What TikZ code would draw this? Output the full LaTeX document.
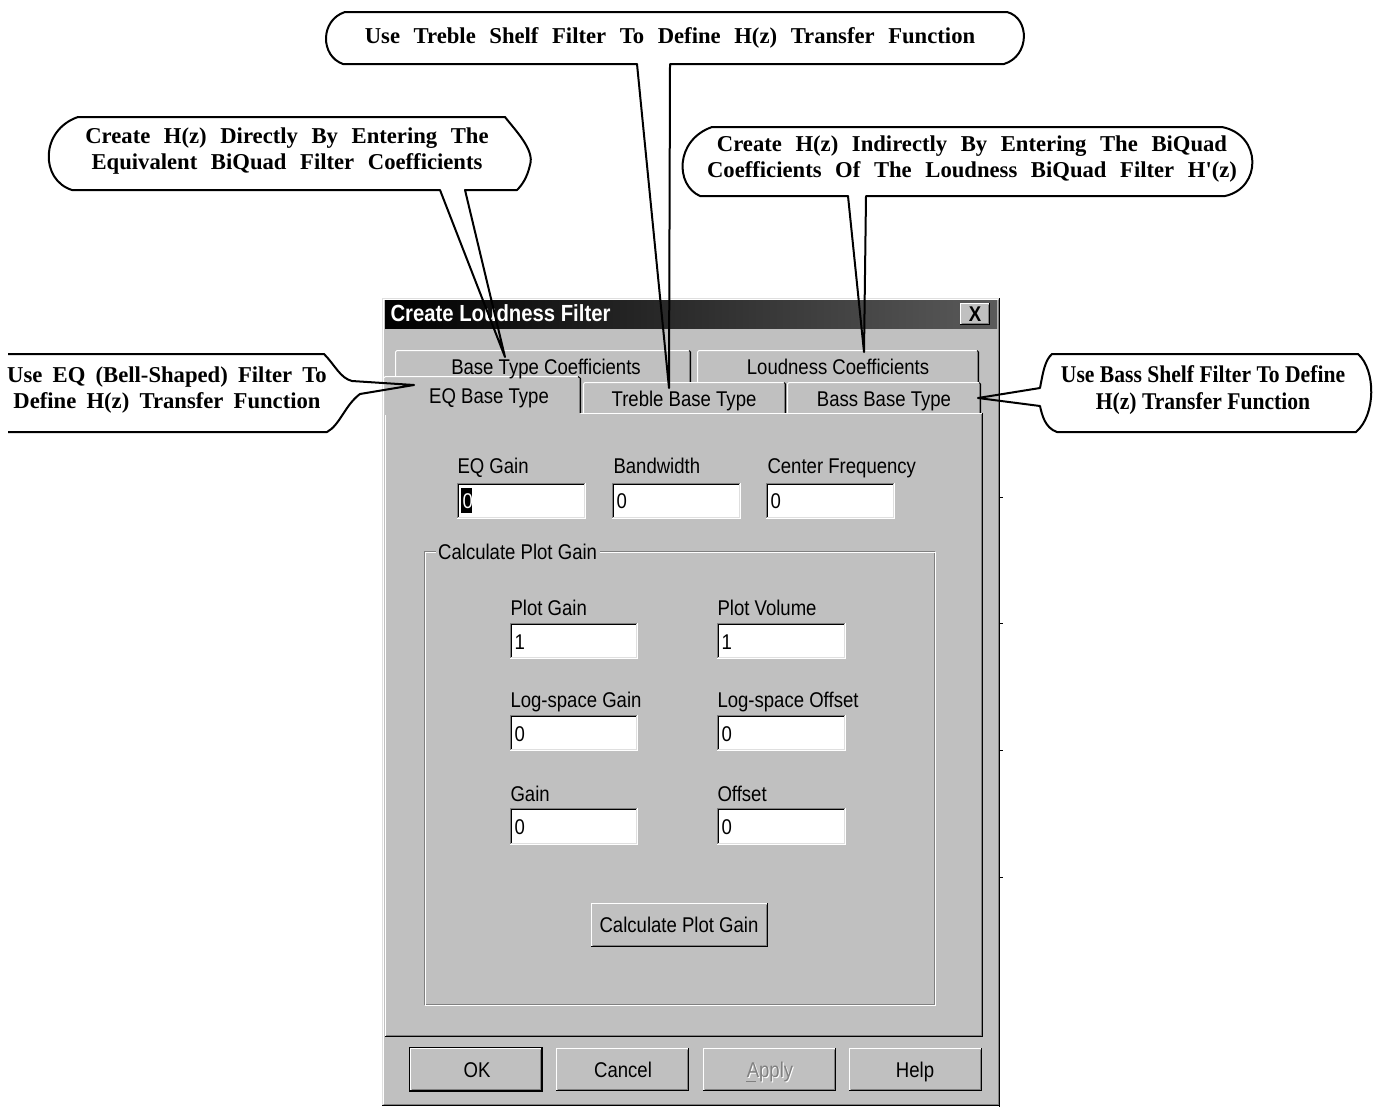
\documentclass[tikz,border=0pt]{standalone}
\usepackage{fontspec}
\setmainfont{Liberation Serif}
\newfontfamily\dlgfont[FakeStretch=0.87]{Liberation Sans}
\newfontfamily\narrowserif[FakeStretch=0.9]{Liberation Serif}

\definecolor{winface}{RGB}{192,192,192}
\definecolor{winshadow}{RGB}{128,128,128}
\definecolor{winlight}{RGB}{255,255,255}
\definecolor{wingrey}{RGB}{223,223,223}
\definecolor{titlegrey}{RGB}{90,90,90}

\newcommand{\widespace}{\spaceskip=0.6em plus 0.1em\relax}
\newcommand{\midspace}{\spaceskip=0.45em plus 0.1em\relax}

\tikzset{every picture/.style={line width=0.75pt}}
\tikzset{
  callout/.style={line width=1.5pt, line join=round},
  calltext/.style={font=\bfseries\fontsize{17}{19.5}\selectfont, align=center, inner sep=0.75pt, execute at begin node=\widespace},
  bassnote/.style={font=\narrowserif\bfseries\fontsize{18}{20.5}\selectfont, align=center, inner sep=0.75pt},
  dlgtext/.style={font=\dlgfont\fontsize{16}{18}\selectfont, inner sep=0.75pt, anchor=base},
  dlglabel/.style={dlgtext, anchor=base west},
  titletext/.style={font=\dlgfont\bfseries\fontsize{17.5}{19}\selectfont, text=white, inner sep=0.75pt, anchor=base west},
}

% raised face: x1 y1 x2 y2
\newcommand{\raisedbox}[4]{%
  \fill[winface] (#1,#2) rectangle (#3,#4);
  \draw[winlight] (#1+0.5,#4-1) -- (#1+0.5,#2+0.5) -- (#3-1,#2+0.5);
  \draw[winshadow] (#1+1.5,#4-1.5) -- (#3-1.5,#4-1.5) -- (#3-1.5,#2+1.5);
  \draw[black] (#1,#4-0.5) -- (#3-0.5,#4-0.5) -- (#3-0.5,#2);
}
% sunken edit field: x1 y1 x2 y2
\newcommand{\sunkenbox}[4]{%
  \fill[white] (#1,#2) rectangle (#3,#4);
  \draw[winshadow] (#1+0.5,#4-1) -- (#1+0.5,#2+0.5) -- (#3-1,#2+0.5);
  \draw[black] (#1+1.5,#4-2) -- (#1+1.5,#2+1.5) -- (#3-2,#2+1.5);
  \draw[wingrey] (#1+1,#4-1.5) -- (#3-1.5,#4-1.5) -- (#3-1.5,#2+1);
  \draw[winlight] (#1,#4-0.5) -- (#3-0.5,#4-0.5) -- (#3-0.5,#2);
}
% tab: x1 top x2 bottom
\newcommand{\tabface}[4]{%
  \fill[winface] (#1,#4) -- (#1,#2+2) -- (#1+2,#2) -- (#3-2,#2) -- (#3,#2+2) -- (#3,#4) -- cycle;
  \draw[winlight] (#1+0.5,#4) -- (#1+0.5,#2+2) -- (#1+2,#2+0.5) -- (#3-2,#2+0.5);
  \draw[black] (#3-2,#2+0.5) -- (#3-0.5,#2+2) -- (#3-0.5,#4);
  \draw[winshadow] (#3-1.5,#2+2) -- (#3-1.5,#4);
}

\begin{document}
\begin{tikzpicture}[x=0.75pt,y=0.75pt,yscale=-1,xscale=1]
\useasboundingbox (0,0) rectangle (1373,1107);

%Shape: Rectangle [dialog frame]
\fill[winface] (382,298) rectangle (1000,1106);
\draw[wingrey] (382.5,1106) -- (382.5,298.5) -- (1000,298.5);
\draw[winlight] (383.5,1104) -- (383.5,299.5) -- (998,299.5);
\draw[winshadow] (384,1104.5) -- (998.5,1104.5) -- (998.5,300);
\draw[black] (382,1105.5) -- (999.5,1105.5);
\draw[black] (999.5,298) -- (999.5,1107);
%Straight Lines [ticks]
\draw (1000,497) -- (1003,497);
\draw (1000,623) -- (1003,623);
\draw (1000,750) -- (1003,750);
\draw (1000,877) -- (1003,877);

%Shape: Rectangle [title bar]
\shade[left color=black, right color=titlegrey] (385,300) rectangle (997,328);
\raisedbox{960}{303}{990}{325}
% Text Node
\node[titletext] (title) at (389,321) {Create Loudness Filter};
% Text Node
\node[font=\dlgfont\bfseries\fontsize{16}{18}\selectfont, inner sep=0pt] (closex) at (975,314) {X};

%Shape: Tabs, back row
\tabface{395}{350}{691}{382}
\tabface{697}{350}{979}{382}
%Shape: Tabs, front row
\tabface{583}{382}{786}{414}
\tabface{787}{382}{981}{414}

%Shape: Rectangle [tab panel]
\fill[winface] (385,413) rectangle (983,1037);
\draw[winlight] (385.5,1036) -- (385.5,413.5) -- (982,413.5);
\draw[winshadow] (386,1035.5) -- (981.5,1035.5) -- (981.5,414);
\draw[black] (385,1036.5) -- (982.5,1036.5) -- (982.5,413);

%Shape: selected tab
\fill[winface] (384,376) -- (384,415) -- (580,415) -- (580,376) -- cycle;
\draw[winlight] (383.5,415) -- (383.5,378) -- (385.5,376.5) -- (578,376.5);
\draw[black] (578,376.5) -- (580.5,378.5) -- (580.5,413);
\draw[winshadow] (579.5,379) -- (579.5,413);

% Text Node
\node[dlgtext] (tabcoef) at (546,374) {Base Type Coefficients};
% Text Node
\node[dlgtext] (tabloud) at (838,374) {Loudness Coefficients};
% Text Node
\node[dlgtext] (tabeq) at (489,403) {EQ Base Type};
% Text Node
\node[dlgtext] (tabtreble) at (684,406) {Treble Base Type};
% Text Node
\node[dlgtext] (tabbass) at (884,406) {Bass Base Type};

% Text Node
\node[dlglabel] (eqgain) at (456,473) {EQ Gain};
% Text Node
\node[dlglabel] (bandwidth) at (612,473) {Bandwidth};
% Text Node
\node[dlglabel] (centerfreq) at (766,473) {Center Frequency};
\sunkenbox{457}{483}{586}{519}
\sunkenbox{612}{483}{741}{519}
\sunkenbox{766}{483}{895}{519}
\fill[black] (461,488) rectangle (472,513);
% Text Node
\node[dlglabel, text=white] (eqgainval) at (461,508) {0};
% Text Node
\node[dlglabel] (bandwidthval) at (615,508) {0};
% Text Node
\node[dlglabel] (centerfreqval) at (769,508) {0};

%Shape: group box
\draw[winshadow] (424.5,1004) -- (424.5,551.5) -- (934,551.5) -- (934,1004) -- cycle;
\draw[winlight] (425.5,1005) -- (425.5,552.5) -- (935,552.5) -- (935,1005) -- cycle;
% Text Node
\node[dlglabel, fill=winface, inner xsep=2pt] (groupcap) at (435,559) {Calculate Plot Gain};

% Text Node
\node[dlglabel] (plotgain) at (509,615) {Plot Gain};
% Text Node
\node[dlglabel] (plotvol) at (716,615) {Plot Volume};
\sunkenbox{510}{623}{638}{659}
\sunkenbox{717}{623}{846}{659}
% Text Node
\node[dlglabel] (plotgainval) at (513,649) {1};
% Text Node
\node[dlglabel] (plotvolval) at (720,649) {1};

% Text Node
\node[dlglabel] (loggain) at (509,707) {Log-space Gain};
% Text Node
\node[dlglabel] (logoffset) at (716,707) {Log-space Offset};
\sunkenbox{510}{715}{638}{751}
\sunkenbox{717}{715}{846}{751}
% Text Node
\node[dlglabel] (loggainval) at (513,741) {0};
% Text Node
\node[dlglabel] (logoffsetval) at (720,741) {0};

% Text Node
\node[dlglabel] (gain) at (509,801) {Gain};
% Text Node
\node[dlglabel] (offset) at (716,801) {Offset};
\sunkenbox{510}{808}{638}{845}
\sunkenbox{717}{808}{846}{845}
% Text Node
\node[dlglabel] (gainval) at (513,834) {0};
% Text Node
\node[dlglabel] (offsetval) at (720,834) {0};

%Shape: Button [calculate]
\raisedbox{591}{903}{768}{947}
% Text Node
\node[dlgtext] (calcbtn) at (679,932) {Calculate Plot Gain};

%Shape: Buttons [bottom row]
\draw[black] (409.5,1047.5) rectangle (542.5,1091.5);
\raisedbox{410}{1048}{542}{1091}
\raisedbox{556}{1048}{689}{1091}
\raisedbox{703}{1048}{836}{1091}
\raisedbox{849}{1048}{982}{1091}
% Text Node
\node[dlgtext] (okbtn) at (477,1077) {OK};
% Text Node
\node[dlgtext] (cancelbtn) at (623,1077) {Cancel};
% Text Node
\node[dlgtext, text=white] (applyshade) at (771,1078) {Apply};
% Text Node
\node[dlgtext, text=winshadow] (applybtn) at (770,1077) {Apply};
\draw[winshadow] (746,1081) -- (756,1081);
% Text Node
\node[dlgtext] (helpbtn) at (915,1077) {Help};

%Callout [treble]
\coordinate (tiptreble) at (669,388);
\draw[callout] (345,12) -- (1007,12) .. controls (1030,18) and (1030,56) .. (1004,64) -- (670,64) -- (tiptreble) -- (637,64) -- (343,64) .. controls (320,56) and (320,20) .. cycle;
% Text Node
\node[calltext] (notetreble) at (670,38) {Use Treble Shelf Filter To Define H(z) Transfer Function};

%Callout [direct]
\coordinate (tipdirect) at (505,357);
\draw[callout] (78,117) -- (505,117) .. controls (515,130) and (535,150) .. (530,165) .. controls (527,178) and (522,185) .. (517,190) -- (465,190) -- (tipdirect) -- (440,190) -- (72,190) .. controls (40,180) and (40,130) .. cycle;
% Text Node
\node[calltext] (notedirect) at (287,151) {Create H(z) Directly By Entering The\\Equivalent BiQuad Filter Coefficients};

%Callout [indirect]
\coordinate (tipindirect) at (864,352);
\draw[callout] (712,127) -- (1222,127) .. controls (1262,135) and (1262,188) .. (1225,196) -- (866,196) -- (tipindirect) -- (848,196) -- (700,196) .. controls (675,185) and (675,140) .. cycle;
% Text Node
\node[calltext] (noteindirect) at (972,159) {Create H(z) Indirectly By Entering The BiQuad\\Coefficients Of The Loudness BiQuad Filter H\textquotesingle(z)};

%Callout [eq]
\coordinate (tipeq) at (414,385);
\draw[callout] (8,354) -- (324,354) .. controls (335,365) and (340,378) .. (352,381) -- (tipeq) -- (360,394) .. controls (345,405) and (340,425) .. (327,432) -- (8,432);
% Text Node
\node[calltext, execute at begin node=\midspace] (noteeq) at (167,390) {Use EQ (Bell-Shaped) Filter To\\Define H(z) Transfer Function};

%Callout [bass]
\coordinate (tipbass) at (978,398);
\draw[callout] (1052,354) -- (1358,354) .. controls (1376,370) and (1376,415) .. (1356,432) -- (1057,432) .. controls (1045,428) and (1042,415) .. (1040,406) -- (tipbass) -- (1040,388) .. controls (1043,372) and (1045,360) .. cycle;
% Text Node
\node[bassnote] (notebass) at (1203,390) {Use Bass Shelf Filter To Define\\H(z) Transfer Function};
\end{tikzpicture}
\end{document}
